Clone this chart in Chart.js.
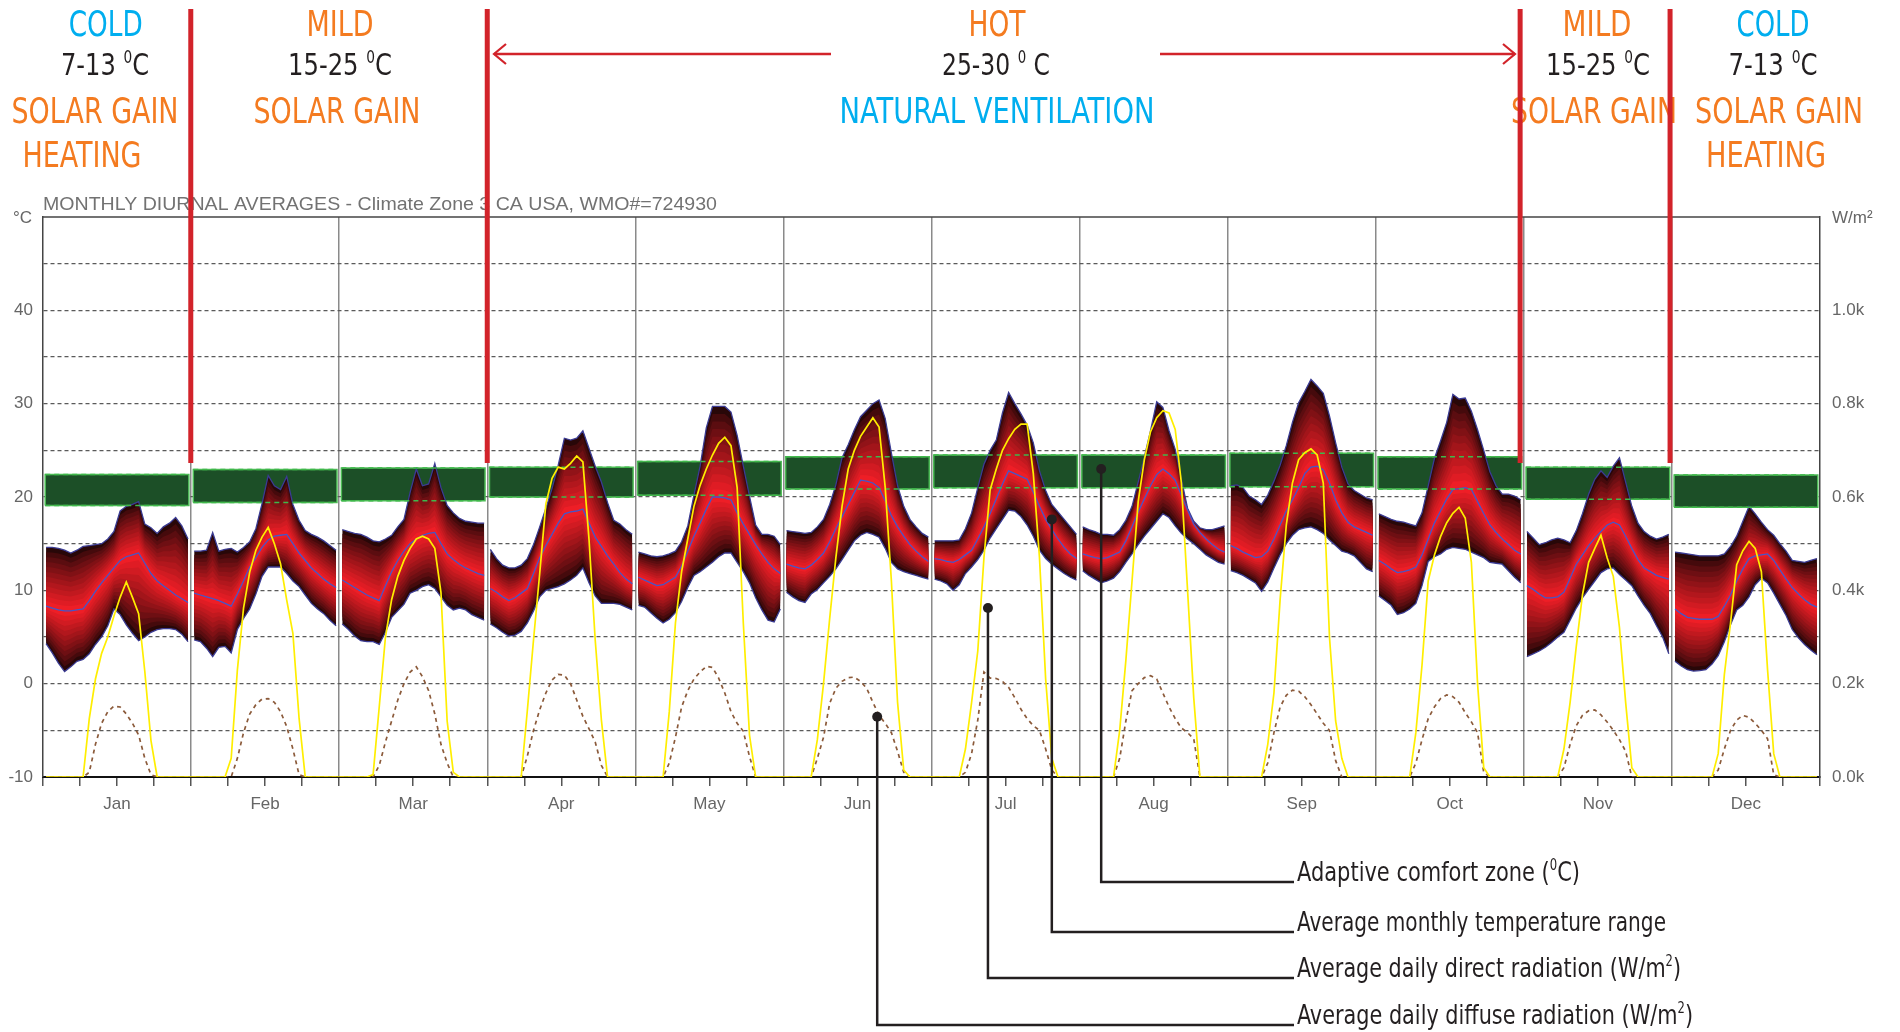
<!DOCTYPE html>
<html>
<head>
<meta charset="utf-8">
<script src="https://cdn.jsdelivr.net/npm/chart.js@4.4.1/dist/chart.umd.min.js"></script>
<style>
html,body{margin:0;padding:0;background:#ffffff;}
#wrap{position:relative;width:1900px;height:1032px;}
canvas{display:block;}
</style>
</head>
<body>
<div id="wrap"><canvas id="c" width="1900" height="1032"></canvas></div>
<script>
// ---------------- DATA ----------------
const months = ['Jan','Feb','Mar','Apr','May','Jun','Jul','Aug','Sep','Oct','Nov','Dec'];

// hourly averages (hour 0..23) per month, °C
const tempMax = [
 [14.6,14.6,14.5,14.3,14.0,14.3,14.7,14.8,14.9,15.0,15.5,16.3,18.5,19.0,19.2,19.5,17.1,16.7,16.1,16.8,17.2,17.8,16.9,15.5],
 [14.2,14.2,14.3,16.2,14.2,14.4,14.5,14.1,14.6,15.2,16.6,19.3,22.3,21.2,20.8,22.2,19.2,17.5,16.4,16.0,15.7,15.3,14.8,14.3],
 [16.5,16.3,16.1,16.0,15.7,15.3,15.2,15.5,15.9,16.8,17.6,20.5,23.0,21.2,21.4,23.6,21.0,19.1,18.3,17.7,17.4,17.3,17.2,17.2],
 [14.4,13.4,12.7,12.4,12.4,12.7,13.4,14.9,16.8,18.8,20.9,23.4,26.3,26.1,26.3,27.1,25.2,23.3,21.6,19.4,17.5,17.1,16.5,16.0],
 [14.1,13.9,13.7,13.6,13.7,13.9,14.2,15.2,16.9,20.2,23.3,27.4,29.7,29.7,29.7,29.1,26.6,23.3,20.1,17.0,16.0,16.0,15.8,14.9],
 [16.4,16.3,16.2,16.1,16.2,16.8,17.6,19.2,21.3,24.2,25.6,27.2,28.6,29.3,30.0,30.4,28.4,24.7,21.2,19.0,17.6,16.8,16.1,15.7],
 [15.3,15.3,15.3,15.3,15.4,16.6,18.3,21.0,23.5,25.0,26.1,29.0,31.2,30.0,28.9,27.7,25.8,22.8,20.7,19.2,18.4,17.6,16.8,16.0],
 [16.8,16.5,16.3,16.0,16.0,15.9,16.5,17.5,19.0,21.6,24.3,27.1,30.2,29.6,27.1,25.1,21.9,18.8,17.4,16.7,16.5,16.5,16.7,16.9],
 [21.2,21.3,21.0,20.1,19.7,19.2,20.2,21.7,23.4,25.5,28.0,30.1,31.3,32.6,31.9,31.1,28.7,25.8,23.2,21.4,20.7,20.3,19.9,19.7],
 [18.2,17.9,17.6,17.4,17.3,17.1,16.9,18.3,21.2,24.1,26.0,28.0,31.0,30.5,30.6,29.2,27.2,25.0,22.7,21.2,20.3,20.3,20.1,19.7],
 [16.3,15.6,14.9,15.1,15.4,15.6,15.4,15.1,16.4,18.2,20.3,21.9,22.8,22.1,23.3,24.2,21.6,19.0,17.2,16.3,15.8,15.5,15.7,16.0],
 [14.1,14.0,13.9,13.8,13.7,13.7,13.7,13.7,13.9,14.7,15.8,17.4,19.0,18.2,17.3,16.5,15.9,15.0,14.2,13.2,13.1,13.0,13.2,13.4]
];
const tempMin = [
 [4.3,3.3,2.2,1.3,1.8,2.4,2.6,3.2,4.2,5.0,6.2,8.0,7.4,6.3,5.4,4.6,5.0,5.5,5.8,5.9,5.9,5.8,5.3,4.5],
 [4.7,4.5,3.8,2.9,3.9,4.0,3.3,5.8,7.0,8.0,9.6,11.5,12.5,12.5,12.5,11.8,11.0,10.4,9.5,8.6,8.0,7.5,6.8,6.2],
 [6.4,5.8,5.1,4.6,4.5,4.5,4.2,5.5,7.1,7.8,8.5,9.7,10.0,10.4,10.6,10.2,9.3,8.4,7.9,8.1,7.9,7.4,7.1,6.8],
 [6.4,6.0,5.5,5.1,5.2,5.6,6.5,7.8,9.3,10.0,10.2,10.4,10.7,11.1,11.6,12.4,10.8,9.4,8.6,8.6,8.6,8.5,8.2,7.9],
 [8.4,8.2,7.6,7.0,6.5,6.9,7.6,8.8,10.3,11.6,12.0,12.5,13.0,13.6,14.0,14.0,13.0,12.0,10.8,9.2,7.9,6.8,6.6,8.0],
 [9.8,9.3,8.9,8.7,9.6,10.1,10.8,11.5,12.3,13.3,14.3,15.3,15.9,16.2,16.0,15.7,14.5,13.0,12.3,12.0,11.8,11.6,11.4,11.2],
 [11.2,11.0,10.7,10.0,10.6,11.8,12.5,13.3,14.3,15.6,16.6,17.6,18.6,18.5,17.9,17.0,15.8,14.3,13.4,12.8,12.3,11.8,11.4,11.1],
 [12.1,11.6,11.2,10.8,11.0,11.3,12.0,13.0,13.9,14.9,15.8,16.6,17.4,18.2,17.8,16.9,16.1,15.5,15.0,14.4,13.8,13.4,13.0,12.8],
 [12.1,11.9,11.6,11.2,10.8,9.9,10.9,12.4,13.8,15.0,15.9,16.5,16.7,16.8,16.5,16.1,15.4,14.8,14.2,14.0,13.7,13.0,12.3,12.0],
 [9.4,8.9,8.4,7.4,7.6,8.0,8.6,10.5,13.1,13.6,13.9,14.4,14.6,14.5,14.4,14.1,13.8,13.5,13.0,12.9,12.8,12.1,11.4,10.8],
 [2.9,3.2,3.5,3.9,4.4,5.0,5.5,6.8,8.1,9.2,10.1,11.0,11.9,12.3,12.4,11.7,11.1,10.5,9.4,8.4,7.5,6.2,5.0,3.2],
 [2.4,1.9,1.5,1.35,1.4,1.5,2.1,3.0,4.5,6.3,7.9,8.4,9.3,10.6,11.3,10.8,9.7,8.5,7.3,5.8,4.9,4.2,3.6,3.1]
];
const tempMean = [
 [8.3,8.1,7.9,7.8,7.8,7.9,8.0,8.9,9.9,10.8,11.6,12.4,13.2,13.6,13.8,14.0,12.9,11.8,11.0,10.5,10.0,9.5,9.1,8.7],
 [9.7,9.5,9.3,9.1,8.9,8.6,8.3,9.6,11.0,12.5,13.5,14.6,15.4,15.8,15.9,16.0,15.0,14.0,13.2,12.4,11.8,11.2,10.7,10.3],
 [11.1,10.7,10.3,9.9,9.5,9.2,8.9,10.5,12.0,13.2,14.2,15.0,15.5,15.9,16.1,16.2,15.0,13.9,13.3,12.8,12.4,12.1,11.8,11.6],
 [10.2,9.8,9.3,8.9,9.2,9.7,10.2,11.8,13.5,14.8,16.0,17.2,18.2,18.4,18.5,18.7,17.2,15.7,14.7,13.7,12.8,11.9,11.2,10.7],
 [11.4,11.1,10.8,10.5,10.6,11.0,11.4,12.6,14.2,15.8,17.2,18.7,20.0,20.0,19.9,19.7,18.3,17.1,16.0,14.9,13.9,13.0,12.3,11.8],
 [12.8,12.6,12.4,12.3,12.7,13.3,14.0,15.2,16.6,17.9,19.2,20.5,21.8,21.7,21.5,21.0,19.6,18.0,16.8,15.8,14.9,14.2,13.6,13.1],
 [13.4,13.3,13.1,13.0,13.3,13.8,14.3,15.5,16.8,18.2,19.8,21.4,22.8,22.5,22.2,21.9,20.5,19.0,17.6,16.5,15.5,14.6,13.9,13.4],
 [13.9,13.7,13.5,13.4,13.5,13.8,14.1,15.3,16.8,18.4,19.8,21.2,22.4,23.0,22.5,21.8,20.2,18.6,17.1,16.2,15.5,14.9,14.4,14.1],
 [14.8,14.5,14.1,13.8,13.5,13.6,14.2,15.5,17.0,18.5,19.7,21.0,22.5,23.2,23.3,22.9,21.5,19.7,18.3,17.3,16.8,16.5,16.2,15.9],
 [13.2,12.8,12.3,11.9,12.0,12.2,12.5,13.8,15.5,17.2,18.5,19.8,20.8,20.9,21.0,20.8,19.5,18.2,17.0,16.2,15.5,14.9,14.3,13.9],
 [10.5,10.1,9.6,9.2,9.2,9.3,9.8,11.3,12.8,13.8,14.8,15.6,16.3,17.0,17.3,17.0,15.8,14.5,13.3,12.4,12.0,11.6,11.4,11.2],
 [8.0,7.5,7.1,7.0,6.9,6.9,6.9,7.2,8.3,9.5,11.0,12.3,13.4,13.7,13.8,13.9,13.2,12.2,11.2,10.3,9.6,9.0,8.5,8.2]
];
// hourly radiation per month, W/m²
const directRad = [
 [0,0,0,0,0,0,0,125,210,265,300,345,385,418,385,350,226,78,0,0,0,0,0,0],
 [0,0,0,0,0,0,40,229,362,439,486,514,535,500,457,379,308,126,0,0,0,0,0,0],
 [0,0,0,0,0,5,151,300,380,430,464,490,510,516,510,490,395,120,10,0,0,0,0,0],
 [0,0,0,0,0,0,143,294,436,585,640,664,660,672,688,675,508,293,122,0,0,0,0,0],
 [0,0,0,0,0,140,330,440,510,580,625,660,690,715,728,710,620,330,90,0,0,0,0,0],
 [0,0,0,0,0,80,200,340,470,580,660,700,730,750,770,750,620,420,160,15,0,0,0,0],
 [0,0,0,0,0,60,160,270,470,615,660,700,725,745,756,756,650,470,210,40,0,0,0,0],
 [0,0,0,0,0,0,100,250,420,590,680,740,770,785,780,745,630,400,170,0,0,0,0,0],
 [0,0,0,0,0,0,70,180,380,540,630,680,695,703,690,630,300,120,40,0,0,0,0,0],
 [0,0,0,0,0,0,95,240,420,475,515,545,565,578,555,460,200,20,0,0,0,0,0,0],
 [0,0,0,0,0,0,60,160,280,390,460,490,518,470,430,320,160,20,0,0,0,0,0,0],
 [0,0,0,0,0,0,0,50,220,330,455,485,505,490,440,230,50,0,0,0,0,0,0,0]
];
const diffuseRad = [
 [0,0,0,0,0,0,0,10,70,115,140,152,150,135,115,90,40,5,0,0,0,0,0,0],
 [0,0,0,0,0,0,0,40,95,135,155,167,168,160,140,108,60,5,0,0,0,0,0,0],
 [0,0,0,0,0,0,25,75,120,165,200,225,236,215,185,135,70,30,0,0,0,0,0,0],
 [0,0,0,0,0,0,45,100,144,180,208,220,218,200,165,130,103,75,25,0,0,0,0,0],
 [0,0,0,0,0,30,85,150,185,210,225,237,235,212,180,140,115,98,44,0,0,0,0,0],
 [0,0,0,0,0,40,85,158,190,205,213,214,205,190,160,132,115,95,55,10,0,0,0,0],
 [0,0,0,0,0,10,50,122,225,212,211,205,192,170,145,125,110,100,60,15,0,0,0,0],
 [0,0,0,0,0,0,40,120,185,200,213,217,210,180,150,125,105,95,82,0,0,0,0,0],
 [0,0,0,0,0,0,30,95,150,175,186,184,172,155,135,115,100,35,0,0,0,0,0,0],
 [0,0,0,0,0,0,30,80,125,150,168,176,172,160,138,118,95,10,0,0,0,0,0,0],
 [0,0,0,0,0,0,20,70,110,132,142,144,133,118,100,80,55,0,0,0,0,0,0,0],
 [0,0,0,0,0,0,0,15,60,100,122,132,128,115,100,82,5,0,0,0,0,0,0,0]
];
// adaptive comfort zone per month, °C
const comfortLow  = [19.1,19.4,19.6,20.0,20.2,20.85,21.0,21.0,21.1,20.85,19.75,18.9];
const comfortHigh = [22.4,22.95,23.1,23.2,23.8,24.3,24.5,24.5,24.7,24.3,23.2,22.35];

// axis tick values / labels
const tempLabelValues = [-10,0,10,20,30,40];
const radLabelValues = [0,200,400,600,800,1000];
const chartTitle = 'MONTHLY DIURNAL AVERAGES - Climate Zone 3 CA USA, WMO#=724930';

// ---------------- HELPERS ----------------
const H = 24; // hours per month slot on the x axis
const BOX_IN = 0.36, BOX_OUT = 23.64; // comfort box extent inside a month slot (hours)
function monthSeries(rows, fn) {
  const out = [];
  rows.forEach((row, m) => {
    row.forEach((v, i) => out.push({x: m * H + i + 0.5, y: fn ? fn(v, m, i) : v}));
    if (m < rows.length - 1) out.push({x: (m + 1) * H, y: null});
  });
  return out;
}
function continuous(rows) {
  const out = [];
  rows.forEach((row, m) => row.forEach((v, i) => out.push({x: m * H + i + 0.5, y: v})));
  return out;
}
function comfortEdge(vals) {
  const out = [];
  vals.forEach((v, m) => {
    out.push({x: m * H + BOX_IN, y: v}, {x: m * H + BOX_OUT, y: v});
    if (m < vals.length - 1) out.push({x: m * H + 23.9, y: null});
  });
  return out;
}
function comfortOutline(lo, hi) {
  const out = [];
  lo.forEach((v, m) => {
    const a = m * H + BOX_IN, b = m * H + BOX_OUT;
    out.push({x: a, y: v}, {x: a, y: hi[m]}, {x: b, y: hi[m]}, {x: b, y: v}, {x: a, y: v});
    if (m < lo.length - 1) out.push({x: m * H + 23.9, y: null});
  });
  return out;
}

// ---------------- DATASETS ----------------
const datasets = [];
// comfort zone boxes
const boxTopIdx = datasets.length;
datasets.push({type: 'line', label: 'Adaptive comfort zone', data: comfortEdge(comfortHigh),
  fill: boxTopIdx + 1, backgroundColor: '#1c4f27', borderWidth: 0, pointRadius: 0, tension: 0, order: 100, yAxisID: 'y'});
datasets.push({type: 'line', label: 'comfortLow', data: comfortEdge(comfortLow),
  fill: false, borderWidth: 0, pointRadius: 0, tension: 0, order: 100, yAxisID: 'y'});
datasets.push({type: 'line', label: 'comfortOutline', data: comfortOutline(comfortLow, comfortHigh),
  fill: false, borderColor: '#4cbb55', borderWidth: 1.5, pointRadius: 0, tension: 0, order: 99, yAxisID: 'y'});

const LAYERS = 12;
const cOuter = [40, 7, 8], cInner = [238, 30, 38];
for (let k = 0; k < LAYERS; k++) {
  const f = 1 - k / LAYERS;
  const t = Math.pow(k / (LAYERS - 1), 0.8);
  const col = 'rgb(' + cOuter.map((c, j) => Math.round(c + (cInner[j] - c) * t)).join(',') + ')';
  const upIdx = datasets.length;
  datasets.push({
    type: 'line', label: 'band' + k,
    data: monthSeries(tempMax, (v, m, i) => tempMean[m][i] + (v - tempMean[m][i]) * f),
    fill: upIdx + 1, backgroundColor: col, borderWidth: 0, pointRadius: 0, tension: 0,
    order: 90 - k, yAxisID: 'y'
  });
  datasets.push({
    type: 'line', label: 'bandLow' + k,
    data: monthSeries(tempMin, (v, m, i) => tempMean[m][i] - (tempMean[m][i] - v) * f),
    fill: false, borderWidth: 0, pointRadius: 0, tension: 0, order: 90 - k, yAxisID: 'y'
  });
}
datasets.push({type: 'line', label: 'Max', data: monthSeries(tempMax), borderColor: '#3b3b93', borderWidth: 1.3, pointRadius: 0, fill: false, order: 20, yAxisID: 'y'});
datasets.push({type: 'line', label: 'Min', data: monthSeries(tempMin), borderColor: '#3b3b93', borderWidth: 1.3, pointRadius: 0, fill: false, order: 20, yAxisID: 'y'});
datasets.push({type: 'line', label: 'Mean', data: monthSeries(tempMean), borderColor: '#4656c8', borderWidth: 1.3, pointRadius: 0, fill: false, order: 19, yAxisID: 'y'});
datasets.push({type: 'line', label: 'ComfortHighEdge', data: comfortEdge(comfortHigh), borderColor: '#3fb74b', borderWidth: 1.5, borderDash: [5, 4], pointRadius: 0, fill: false, order: 15, yAxisID: 'y'});
datasets.push({type: 'line', label: 'ComfortLowEdge', data: comfortEdge(comfortLow), borderColor: '#3fb74b', borderWidth: 1.5, borderDash: [5, 4], pointRadius: 0, fill: false, order: 15, yAxisID: 'y'});
datasets.push({type: 'line', label: 'Diffuse', data: continuous(diffuseRad), borderColor: '#8b5a3a', borderWidth: 1.7, borderDash: [4, 4], pointRadius: 0, fill: false, order: 11, yAxisID: 'y2'});
datasets.push({type: 'line', label: 'Direct', data: continuous(directRad), borderColor: '#ffee00', borderWidth: 1.7, pointRadius: 0, fill: false, order: 10, yAxisID: 'y2'});

// ---------------- DECORATION ----------------
const RED = '#d2232a', ORANGE = '#f47b20', CYAN = '#00aeef', INK = '#231f20';
const NARROW = '"Liberation Sans Narrow","DejaVu Sans Condensed","Liberation Sans",Arial,sans-serif';
const SANS = '"Liberation Sans",Arial,sans-serif';

const headerItems = [
 {runs:[{t:'COLD'}], cx:105.7, base:36, size:36, w:74, color:CYAN},
 {runs:[{t:'7-13 '},{t:'0',sup:1},{t:'C'}], cx:105, base:75, size:30, w:88, color:INK},
 {runs:[{t:'SOLAR GAIN'}], cx:95, base:123, size:36, w:167, color:ORANGE},
 {runs:[{t:'HEATING'}], cx:82, base:167, size:36, w:119, color:ORANGE},
 {runs:[{t:'MILD'}], cx:340, base:36, size:36, w:67, color:ORANGE},
 {runs:[{t:'15-25 '},{t:'0',sup:1},{t:'C'}], cx:340, base:75, size:30, w:104, color:INK},
 {runs:[{t:'SOLAR GAIN'}], cx:337, base:123, size:36, w:167, color:ORANGE},
 {runs:[{t:'HOT'}], cx:997, base:36, size:36, w:57, color:ORANGE},
 {runs:[{t:'25-30 '},{t:'0',sup:1},{t:' C'}], cx:996, base:75, size:30, w:108, color:INK},
 {runs:[{t:'NATURAL VENTILATION'}], cx:997, base:123, size:36, w:315, color:CYAN},
 {runs:[{t:'MILD'}], cx:1597, base:36, size:36, w:69, color:ORANGE},
 {runs:[{t:'15-25 '},{t:'0',sup:1},{t:'C'}], cx:1598, base:75, size:30, w:104, color:INK},
 {runs:[{t:'SOLAR GAIN'}], cx:1594, base:123, size:36, w:166, color:ORANGE},
 {runs:[{t:'COLD'}], cx:1773, base:36, size:36, w:73, color:CYAN},
 {runs:[{t:'7-13 '},{t:'0',sup:1},{t:'C'}], cx:1773, base:75, size:30, w:89, color:INK},
 {runs:[{t:'SOLAR GAIN'}], cx:1779, base:123, size:36, w:168, color:ORANGE},
 {runs:[{t:'HEATING'}], cx:1766, base:167, size:36, w:120, color:ORANGE}
];
const callouts = [
 {hx:171.5, ty:23.0, lineY:882, w:283, runs:[{t:'Adaptive comfort zone ('},{t:'0',sup:1},{t:'C)'}]},
 {hx:163.5, ty:17.6, lineY:932, w:369, runs:[{t:'Average monthly temperature range'}]},
 {hx:153.15, ty:8.1, lineY:978, w:384, runs:[{t:'Average daily direct radiation (W/m'},{t:'2',sup:1},{t:')'}]},
 {hx:135.2, ty:-3.55, lineY:1025, w:396, runs:[{t:'Average daily diffuse radiation (W/m'},{t:'2',sup:1},{t:')'}]}
];
const redLineHours = [23.95, 72, 239.4, 263.7];

function measureRuns(ctx, runs, size) {
  const supSize = Math.round(size * 0.55);
  let total = 0;
  const ws = runs.map(r => {
    ctx.font = (r.sup ? supSize : size) + 'px ' + NARROW;
    const w = ctx.measureText(r.t).width; total += w; return w;
  });
  return {ws, total, supSize};
}
function drawRuns(ctx, runs, x, base, size, color, sx, align) {
  const m = measureRuns(ctx, runs, size);
  const rise = size * 0.39;
  ctx.save();
  ctx.translate(x, base);
  ctx.scale(sx, 1);
  let cx = align === 'center' ? -m.total / 2 : 0;
  ctx.fillStyle = color; ctx.textAlign = 'left'; ctx.textBaseline = 'alphabetic';
  runs.forEach((r, i) => {
    ctx.font = (r.sup ? m.supSize : size) + 'px ' + NARROW;
    ctx.fillText(r.t, cx, r.sup ? -rise : 0);
    cx += m.ws[i];
  });
  ctx.restore();
}

const decor = {
  id: 'decor',
  afterDraw(chart) {
    const {ctx, chartArea: a, scales} = chart;
    const xs = scales.x, ys = scales.y;
    ctx.save();
    // top frame line
    ctx.strokeStyle = '#444'; ctx.lineWidth = 1.5;
    ctx.beginPath(); ctx.moveTo(a.left, a.top); ctx.lineTo(a.right, a.top); ctx.stroke();

    // chart title
    ctx.font = '19px ' + SANS; ctx.fillStyle = '#727272'; ctx.textAlign = 'left'; ctx.textBaseline = 'alphabetic';
    const tw = ctx.measureText(chartTitle).width;
    ctx.save(); ctx.translate(a.left, 210); ctx.scale(674 / tw, 1); ctx.fillText(chartTitle, 0, 0); ctx.restore();
    // unit labels
    ctx.font = '17px ' + SANS; ctx.fillStyle = '#666';
    ctx.fillText('°C', 13, 223);
    ctx.fillText('W/m²', 1832, 223);

    // header texts
    headerItems.forEach(h => {
      const m = measureRuns(ctx, h.runs, h.size);
      drawRuns(ctx, h.runs, h.cx, h.base, h.size, h.color, h.w / m.total, 'center');
    });

    // red climate dividers
    ctx.strokeStyle = RED; ctx.lineWidth = 5; ctx.lineCap = 'butt';
    redLineHours.forEach(hv => {
      const px = xs.getPixelForValue(hv);
      ctx.beginPath(); ctx.moveTo(px, 9); ctx.lineTo(px, 463); ctx.stroke();
    });
    // arrow
    ctx.lineWidth = 2.5;
    ctx.beginPath();
    ctx.moveTo(494, 54); ctx.lineTo(831, 54);
    ctx.moveTo(1160, 54); ctx.lineTo(1515, 54);
    ctx.stroke();
    ctx.lineWidth = 2.2;
    ctx.beginPath();
    ctx.moveTo(506, 44); ctx.lineTo(494, 54); ctx.lineTo(506, 64);
    ctx.moveTo(1503, 44); ctx.lineTo(1515, 54); ctx.lineTo(1503, 64);
    ctx.stroke();

    // callouts
    callouts.forEach(c => {
      const px = xs.getPixelForValue(c.hx), py = ys.getPixelForValue(c.ty);
      ctx.strokeStyle = INK; ctx.lineWidth = 2.5;
      ctx.beginPath(); ctx.moveTo(px, py); ctx.lineTo(px, c.lineY); ctx.lineTo(1294, c.lineY); ctx.stroke();
      ctx.fillStyle = INK;
      ctx.beginPath(); ctx.arc(px, py, 5, 0, Math.PI * 2); ctx.fill();
      const m = measureRuns(ctx, c.runs, 27);
      drawRuns(ctx, c.runs, 1297, c.lineY - 1, 27, INK, c.w / m.total, 'left');
    });
    ctx.restore();
  }
};

// ---------------- CHART ----------------
Chart.defaults.font.family = SANS;
new Chart(document.getElementById('c'), {
  type: 'line',
  data: {datasets},
  options: {
    responsive: false, maintainAspectRatio: false, animation: false, devicePixelRatio: 1,
    events: [],
    layout: {padding: {top: 217, left: 0, right: 0, bottom: 0}},
    plugins: {legend: {display: false}, tooltip: {enabled: false}, title: {display: false}},
    scales: {
      x: {
        type: 'linear', position: 'bottom', min: 0, max: 288, offset: false,
        afterFit: s => { s.height = 255; },
        ticks: {stepSize: 6, autoSkip: false, maxRotation: 0, minRotation: 0, color: '#666', font: {size: 17}, padding: 8,
          callback: v => (v % H === 12 ? months[(v - 12) / H] : '')},
        grid: {
          offset: false,
          color: c => (c.tick && c.tick.value % H === 0 && c.tick.value > 0 && c.tick.value < 288) ? '#8a8a8a' : 'rgba(0,0,0,0)',
          lineWidth: 1.5, drawTicks: true, tickLength: 9, tickColor: '#555', tickWidth: 1.5
        },
        border: {display: true, color: '#111', width: 2}
      },
      y: {
        type: 'linear', position: 'left', min: -10, max: 50,
        afterFit: s => { s.width = 43; },
        ticks: {stepSize: 5, color: '#666', font: {size: 17}, padding: 10,
          callback: v => (tempLabelValues.includes(v) ? String(v) : '')},
        grid: {color: c => (c.tick && (c.tick.value === -10 || c.tick.value === 50)) ? 'rgba(0,0,0,0)' : '#5a5a5a',
          lineWidth: 1.2, drawTicks: false},
        border: {display: true, color: '#444', width: 1.5, dash: [4, 3]}
      },
      y2: {
        type: 'linear', position: 'right', min: 0, max: 1200,
        afterFit: s => { s.width = 80; },
        ticks: {stepSize: 200, color: '#666', font: {size: 17}, padding: 12,
          callback: v => (radLabelValues.includes(v) ? (v / 1000).toFixed(1) + 'k' : '')},
        grid: {display: false, drawTicks: false},
        border: {display: true, color: '#444', width: 1.5}
      }
    }
  },
  plugins: [decor]
});
</script>
</body>
</html>
